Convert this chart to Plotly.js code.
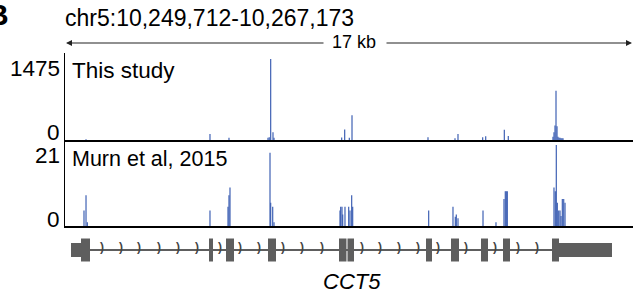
<!DOCTYPE html>
<html><head><meta charset="utf-8">
<script src="https://cdn.plot.ly/plotly-3.0.1.min.js"></script>
<style>html,body{margin:0;padding:0;background:#fff}#chart{width:633px;height:296px}</style>
</head><body><div id="chart"></div>
<script>
// Region
const regionLabel = "chr5:10,249,712-10,267,173";
const regionStart = 10249712;
const regionEnd = 10267173;
const scaleLabel = "17 kb";
const geneName = "CCT5";

// Track names and y-axis maxima
const trackNames = ["This study", "Murn et al, 2015"];
const trackMax = [1475, 21];

// Track 1: "This study" (genomic position, signal)
const t1Pos = [10250358, 10254169, 10254753, 10255952, 10255990, 10256035, 10256106, 10256137,
  10258218, 10258310, 10258452, 10258535, 10260871, 10261701, 10261793, 10262552, 10262645,
  10263217, 10263339, 10264713, 10264744, 10264775, 10264806, 10264837, 10264867, 10264898,
  10264929, 10264960, 10264990, 10265021];
const t1Val = [15, 110, 40, 40, 50, 1475, 140, 40,
  45, 190, 40, 450, 50, 30, 110, 50, 70,
  185, 75, 60, 140, 265, 895, 250, 60, 40,
  40, 30, 30, 30];

// Track 2: "Murn et al, 2015"
const t2Pos = [10250296, 10250358, 10250398, 10254169, 10254723, 10254753, 10254784, 10256014,
  10256035, 10256097, 10256137, 10258166, 10258187, 10258227, 10258249, 10258319, 10258433,
  10258473, 10258525, 10258556, 10260892, 10261639, 10261710, 10261741, 10261793, 10262562,
  10262961, 10263207, 10263247, 10263278, 10263309, 10264744, 10264784, 10264815, 10264846,
  10264889, 10264929, 10264960, 10265000, 10265043, 10265083];
const t2Val = [4, 8, 1, 4, 5, 8, 10, 19,
  6, 5, 1, 4, 5, 5, 3, 5, 5,
  4, 8, 5, 4, 5, 2.4, 3, 2, 4,
  1, 7, 9, 9, 9, 10, 9, 21, 6,
  4, 4, 2.6, 7, 7, 6];

// Gene model (CCT5): exons [start, end], type: 1 = coding (thick), 0 = UTR (thin)
const exonStart = [10249896, 10250204, 10254139, 10254661, 10255952, 10258135, 10258396, 10260810,
  10261578, 10262500, 10263176, 10264683, 10264898];
const exonEnd = [10250204, 10250481, 10254262, 10254907, 10256198, 10258365, 10258596, 10260994,
  10261824, 10262715, 10263392, 10264898, 10266527];
const exonCoding = [0, 1, 1, 1, 1, 1, 1, 1, 1, 1, 1, 1, 0];
const chevronPos = [10250849, 10251433, 10251987, 10252602, 10253186, 10253770, 10254477, 10255092,
  10255676, 10256414, 10256998, 10257612, 10258842, 10259395, 10259979, 10260564, 10261178,
  10262039, 10262931, 10263638, 10264222];

const H = 296, L = 65, W = 633;
const yP = px => 1 - px / H;
const xP = px => (px - L) / (W - L);
const FONT = "Liberation Sans, Arial, Helvetica, sans-serif";
const blue = "#3a5db2";
const grey = "#5e5e5e";
const barW = 36;

const traces = [
  {type: "bar", x: t1Pos, y: t1Val, width: t1Pos.map(() => barW), xaxis: "x", yaxis: "y",
   marker: {color: blue, line: {width: 0}}, hoverinfo: "skip"},
  {type: "bar", x: t2Pos, y: t2Val, width: t2Pos.map(() => barW), xaxis: "x2", yaxis: "y2",
   marker: {color: blue, line: {width: 0}}, hoverinfo: "skip"},
  {type: "scatter", mode: "lines", x: [exonStart[0], exonEnd[exonEnd.length - 1]], y: [0, 0],
   xaxis: "x3", yaxis: "y3", line: {color: grey, width: 2}, hoverinfo: "skip"},
  {type: "scatter", mode: "text", x: chevronPos, y: chevronPos.map(() => 0.08), text: chevronPos.map(() => "<b>)</b>"),
   textposition: "middle center", textfont: {family: FONT, size: 12, color: "#444444"},
   xaxis: "x3", yaxis: "y3", hoverinfo: "skip"},
  {type: "bar", x: exonStart.map((s, i) => (s + exonEnd[i]) / 2), width: exonStart.map((s, i) => exonEnd[i] - s),
   base: exonCoding.map(c => c ? -0.575 : -0.35), y: exonCoding.map(c => c ? 1.15 : 0.7),
   xaxis: "x3", yaxis: "y3", marker: {color: grey, line: {width: 0}}, hoverinfo: "skip"}
];

const noTicks = {showticklabels: false, ticks: "", showgrid: false, zeroline: false, fixedrange: true};
const layout = {
  width: 633, height: 296, margin: {l: L, r: 0, t: 0, b: 0, pad: 0},
  paper_bgcolor: "#ffffff", plot_bgcolor: "rgba(0,0,0,0)", showlegend: false,
  font: {family: FONT, color: "#000"},
  xaxis: Object.assign({range: [regionStart, regionEnd], anchor: "y", showline: true, linecolor: "#000", linewidth: 2}, noTicks),
  xaxis2: Object.assign({range: [regionStart, regionEnd], anchor: "y2", showline: true, linecolor: "#000", linewidth: 2}, noTicks),
  xaxis3: Object.assign({range: [regionStart, regionEnd], anchor: "y3", visible: false}, noTicks),
  yaxis: Object.assign({domain: [yP(140), yP(53)], range: [0, trackMax[0] * 87 / 81], showline: true, linecolor: "#000", linewidth: 1.5}, noTicks),
  yaxis2: Object.assign({domain: [yP(226), yP(140)], range: [0, trackMax[1] * 86 / 81], showline: true, linecolor: "#000", linewidth: 1.5}, noTicks),
  yaxis3: Object.assign({domain: [yP(270), yP(230)], range: [-1, 1], visible: false}, noTicks),
  annotations: [
    {text: "<b>B</b>", xref: "paper", yref: "paper", x: xP(11), y: yP(15), xanchor: "right", yanchor: "middle", showarrow: false, font: {size: 30}},
    {text: regionLabel, xref: "paper", yref: "paper", x: xP(63), y: yP(18), xanchor: "left", yanchor: "middle", showarrow: false, font: {size: 23}},
    {text: scaleLabel, xref: "paper", yref: "paper", x: xP(354), y: yP(42), xanchor: "center", yanchor: "middle", showarrow: false, font: {size: 18}},
    {text: "", xref: "x", yref: "paper", x: regionStart + 30, y: yP(43), axref: "x", ayref: "pixel",
     ax: regionStart + (325 - L) * (regionEnd - regionStart) / (W - L), ay: 0, showarrow: true,
     arrowhead: 2, arrowsize: 1, arrowwidth: 1.2, arrowcolor: "#222"},
    {text: "", xref: "x", yref: "paper", x: regionEnd - 30, y: yP(43), axref: "x", ayref: "pixel",
     ax: regionStart + (385 - L) * (regionEnd - regionStart) / (W - L), ay: 0, showarrow: true,
     arrowhead: 2, arrowsize: 1, arrowwidth: 1.2, arrowcolor: "#222"},
    {text: String(trackMax[0]), xref: "paper", yref: "paper", x: xP(62), y: yP(68), xanchor: "right", yanchor: "middle", showarrow: false, font: {size: 22.5}},
    {text: "0", xref: "paper", yref: "paper", x: xP(62), y: yP(132), xanchor: "right", yanchor: "middle", showarrow: false, font: {size: 22.5}},
    {text: String(trackMax[1]), xref: "paper", yref: "paper", x: xP(62), y: yP(155), xanchor: "right", yanchor: "middle", showarrow: false, font: {size: 22.5}},
    {text: "0", xref: "paper", yref: "paper", x: xP(62), y: yP(219), xanchor: "right", yanchor: "middle", showarrow: false, font: {size: 22.5}},
    {text: trackNames[0], xref: "paper", yref: "paper", x: xP(70), y: yP(70), xanchor: "left", yanchor: "middle", showarrow: false, font: {size: 22.5}},
    {text: trackNames[1], xref: "paper", yref: "paper", x: xP(70), y: yP(159), xanchor: "left", yanchor: "middle", showarrow: false, font: {size: 21.5}},
    {text: "<i>" + geneName + "</i>", xref: "paper", yref: "paper", x: xP(352), y: yP(281), xanchor: "center", yanchor: "middle", showarrow: false, font: {size: 22}}
  ]
};
Plotly.newPlot("chart", traces, layout, {staticPlot: true, displayModeBar: false});
</script></body></html>
